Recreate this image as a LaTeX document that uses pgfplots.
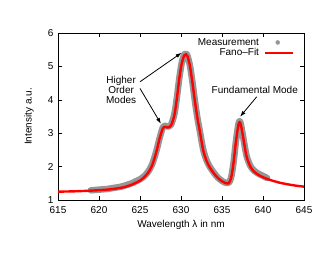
\documentclass[border=0pt]{standalone}
\usepackage{fontspec}
\setmainfont{Liberation Sans}
\usepackage{pgfplots}
\pgfplotsset{compat=1.18}
\usetikzlibrary{arrows.meta}
\definecolor{measgray}{RGB}{150,150,150}
\begin{document}
\fontsize{10bp}{12bp}\selectfont
\begin{tikzpicture}
\path (-58bp,-57bp) rectangle (274bp,200bp);
\begin{axis}[at={(0,0)}, anchor=south west, scale only axis,
  width=246bp, height=167bp,
  xmin=615, xmax=645, ymin=1, ymax=6,
  xtick={615,620,...,645}, ytick={1,2,3,4,5,6},
  tick align=inside, major tick length=4bp,
  axis line style={line width=0.8bp},
  every tick/.style={black, line width=0.6bp},
  /pgf/number format/assume math mode=true,
  ticklabel style={font=\fontsize{10bp}{12bp}\selectfont},
  xticklabel style={yshift=-3bp},
  yticklabel style={xshift=-1bp},
  label style={font=\fontsize{10bp}{12bp}\selectfont},
  xlabel={Wavelength λ in nm}, ylabel={Intensity a.u.},
  xlabel style={at={(axis description cs:0.5,-0.15)}, anchor=center},
  ylabel style={at={(axis description cs:-0.118,0.5)}, anchor=center, rotate=0},
  legend plot pos=right,
  legend cell align=right,
  legend style={draw=none, fill=none, at={(0.972,0.988)}, anchor=north east,
    nodes={inner sep=0.5bp, text height=7.5bp, text depth=2bp},
    /tikz/every odd column/.append style={column sep=4bp},
    font=\fontsize{10bp}{12bp}\selectfont},
]
% measurement band
\addplot[measgray, line width=6.5bp, line cap=round, line join=round, smooth, forget plot] coordinates {
(619.0,1.29) (619.5,1.30) (620,1.31) (620.5,1.32) (621,1.33) (621.5,1.35) (622,1.37) (622.5,1.39)
(623,1.42) (623.5,1.46) (624,1.50) (624.5,1.56) (625,1.62) (625.5,1.71) (626,1.85) (626.5,2.08)
(627,2.47) (627.4,2.86) (627.8,3.18) (628.1,3.22) (628.4,3.20) (628.8,3.26) (629.2,3.58) (629.5,4.07)
(629.8,4.66) (630.1,5.12) (630.4,5.36) (630.6,5.38) (630.8,5.31) (631.1,5.01) (631.4,4.52) (631.7,3.96)
(632.0,3.46) (632.3,3.06) (632.7,2.52) (633.1,2.20) (633.5,2.00) (634.0,1.82) (634.5,1.67) (635.0,1.57)
(635.5,1.51) (635.8,1.51) (636.1,1.66) (636.4,2.11) (636.7,2.76) (637.0,3.27) (637.15,3.36) (637.3,3.27)
(637.6,2.86) (638.0,2.32) (638.5,2.00) (639.0,1.86) (639.5,1.78) (640.0,1.72) (640.5,1.66)
};
\addlegendimage{only marks, mark=*, mark size=2bp, measgray,
  legend image code/.code={\fill[measgray] (13bp,0) circle (2bp);}}
\addlegendentry{Measurement}
\addplot[red, line width=2.4bp, smooth,
  legend image code/.code={\draw[red, line width=2.4bp] (0,0) -- (28bp,0);}] coordinates {
(615,1.25) (617,1.26) (619,1.28) (621,1.31) (622,1.34) (623,1.38) (624,1.46) (625,1.58)
(625.5,1.68) (626,1.82) (626.5,2.05) (627,2.45) (627.4,2.85) (627.8,3.15) (628.1,3.19) (628.4,3.17)
(628.8,3.24) (629.2,3.55) (629.5,4.05) (629.8,4.65) (630.1,5.1) (630.4,5.33) (630.6,5.36) (630.8,5.3)
(631.1,5.0) (631.4,4.5) (631.7,3.95) (632.0,3.45) (632.3,3.05) (632.7,2.5) (633.1,2.18) (633.5,1.98)
(634.0,1.80) (634.5,1.66) (635.0,1.56) (635.5,1.50) (635.8,1.50) (636.1,1.65) (636.4,2.1) (636.7,2.75)
(637.0,3.25) (637.15,3.33) (637.3,3.25) (637.6,2.85) (638.0,2.3) (638.5,1.98) (639.0,1.83) (639.6,1.73)
(640.3,1.65) (641,1.59) (642,1.52) (643,1.47) (644,1.43) (645,1.40)
};
\addlegendentry{Fano--Fit}
\node[align=center, inner sep=0pt, font=\fontsize{10bp}{10bp}\selectfont] at (axis cs:622.7,4.29) {Higher\\Order\\Modes};
\node[inner sep=0pt] at (axis cs:639.0,4.29) {Fundamental Mode};
\draw[-{Latex[length=6bp,width=4bp]}, line width=0.8bp] (axis cs:625.0,4.54) -- (axis cs:630.08,5.41);
\draw[-{Latex[length=6bp,width=4bp]}, line width=0.8bp] (axis cs:625.0,4.34) -- (axis cs:627.56,3.28);
\draw[-{Latex[length=6bp,width=4bp]}, line width=0.8bp] (axis cs:639.23,4.09) -- (axis cs:637.2,3.49);
\end{axis}
\end{tikzpicture}
\end{document}
